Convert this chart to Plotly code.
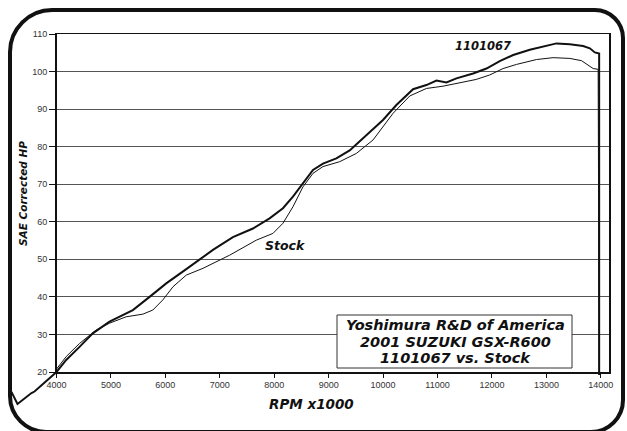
import plotly.graph_objects as go

# ---------------- data ----------------
rpm_1101067 = [3173, 3283, 3540, 3596, 4000, 4178, 4423, 4667, 4974, 5403, 5710, 6016,
               6384, 6874, 7241, 7609, 7915, 8160, 8344, 8528, 8712, 8896, 9141, 9386,
               9693, 9998, 10244, 10550, 10795, 10980, 11164, 11347, 11654, 11899,
               12143, 12390, 12695, 13002, 13186, 13430, 13675, 13798, 13890, 13969, 13969]
hp_1101067 = [14.7, 11.5, 14.4, 14.8, 20.0, 23.2, 26.7, 30.3, 33.4, 36.5, 40.0, 43.6,
              47.4, 52.5, 55.9, 58.2, 60.9, 63.6, 66.7, 70.2, 73.8, 75.5, 76.9, 79.0,
              83.1, 87.1, 91.1, 95.3, 96.4, 97.6, 97.1, 98.2, 99.5, 100.8,
              102.8, 104.4, 105.8, 106.8, 107.5, 107.3, 106.8, 106.2, 105.1, 104.8, 19.2]

rpm_stock = [3990, 4178, 4423, 4730, 4974, 5280, 5586, 5770, 5954, 6140, 6384, 6690,
             7180, 7670, 7976, 8160, 8344, 8528, 8712, 8896, 9202, 9447, 9509, 9816,
             10184, 10490, 10795, 11100, 11406, 11710, 11960, 12204, 12451, 12695,
             12818, 13124, 13430, 13645, 13767, 13859, 13951, 13969]
hp_stock = [20.6, 24.1, 27.6, 31.2, 33.0, 34.7, 35.4, 36.5, 39.2, 42.7, 45.8, 47.6,
            51.1, 55.1, 56.9, 59.6, 64.0, 69.3, 72.9, 74.7, 76.0, 77.8, 78.2, 81.8,
            88.9, 93.5, 95.5, 96.1, 97.0, 97.9, 99.1, 100.8, 101.9, 102.8,
            103.2, 103.7, 103.5, 102.9, 101.7, 100.8, 100.6, 19.2]

x_ticks = [4000, 5000, 6000, 7000, 8000, 9000, 10000, 11000, 12000, 13000, 14000]
y_ticks = [20, 30, 40, 50, 60, 70, 80, 90, 100, 110]

title_lines = ["Yoshimura R&D of America", "2001 SUZUKI GSX-R600", "1101067 vs. Stock"]

# ---------------- geometry helpers ----------------
W, H = 627, 431
def PX(x):
    return x / W
def PY(y):
    return 1 - y / H

X_RANGE = [4000, 14150]
Y_RANGE = [20, 110]
plot_l, plot_r, plot_t, plot_b = 56.5, 609, 34, 372

sx = (X_RANGE[1] - X_RANGE[0]) / (plot_r - plot_l)
sy = (Y_RANGE[1] - Y_RANGE[0]) / (plot_b - plot_t)
x2_range = [X_RANGE[0] - plot_l * sx, X_RANGE[0] + (W - plot_l) * sx]
y2_range = [Y_RANGE[0] - (H - plot_b) * sy, Y_RANGE[1] + plot_t * sy]

bold_it = lambda s: dict(family="DejaVu Sans", size=s, color="#111111",
                         weight="bold", style="italic")
tick_font = dict(family="Liberation Sans, Arial, sans-serif", size=9, color="#333333")

fig = go.Figure()
fig.add_trace(go.Scatter(x=[], y=[], xaxis="x", yaxis="y", showlegend=False))

fig.add_trace(go.Scatter(x=rpm_stock, y=hp_stock, mode="lines",
                         line=dict(color="#111111", width=1.0),
                         xaxis="x2", yaxis="y2", showlegend=False, hoverinfo="skip"))
fig.add_trace(go.Scatter(x=rpm_1101067, y=hp_1101067, mode="lines",
                         line=dict(color="#111111", width=2.0),
                         xaxis="x2", yaxis="y2", showlegend=False, hoverinfo="skip"))

fig.update_layout(
    template="none",
    width=W, height=H,
    margin=dict(l=0, r=0, t=0, b=0, pad=0, autoexpand=False),
    paper_bgcolor="white", plot_bgcolor="rgba(0,0,0,0)",
    xaxis=dict(domain=[PX(plot_l), PX(plot_r)], range=X_RANGE, tickvals=x_ticks,
               ticktext=[str(v) for v in x_ticks], showgrid=False, zeroline=False,
               showline=True, linecolor="#111111", linewidth=1.5, mirror=True,
               ticks="outside", ticklen=4, tickcolor="#111111", tickfont=tick_font,
               anchor="y", fixedrange=True, automargin=False),
    yaxis=dict(domain=[PY(plot_b), PY(plot_t)], range=Y_RANGE, tickvals=y_ticks,
               showgrid=True, gridcolor="#555555", gridwidth=1, zeroline=False,
               showline=True, linecolor="#111111", linewidth=1.5, mirror=True,
               ticks="outside", ticklen=6, tickcolor="#111111", tickfont=tick_font,
               anchor="x", fixedrange=True, automargin=False),
    xaxis2=dict(domain=[0, 1], range=x2_range, visible=False, anchor="y2",
                fixedrange=True, automargin=False),
    yaxis2=dict(domain=[0, 1], range=y2_range, visible=False, anchor="x2",
                fixedrange=True, automargin=False),
)

# rounded frame (pixel path -> paper coords)
L, T, R, B = 10, 10, 623, 432
rtl, rtr, rbl, rbr = 42, 28, 36, 32
k = 0.55
def pt(x, y):
    return f"{PX(x):.5f},{PY(y):.5f}"
path = (
    f"M {pt(L + rtl, T)} L {pt(R - rtr, T)} "
    f"C {pt(R - rtr + k*rtr, T)} {pt(R, T + rtr - k*rtr)} {pt(R, T + rtr)} "
    f"L {pt(R, B - rbr)} "
    f"C {pt(R, B - rbr + k*rbr)} {pt(R - rbr + k*rbr, B)} {pt(R - rbr, B)} "
    f"L {pt(L + rbl, B)} "
    f"C {pt(L + rbl - k*rbl, B)} {pt(L, B - rbl + k*rbl)} {pt(L, B - rbl)} "
    f"L {pt(L, T + rtl)} "
    f"C {pt(L, T + rtl - k*rtl)} {pt(L + rtl - k*rtl, T)} {pt(L + rtl, T)} Z"
)
fig.add_shape(type="path", path=path, xref="paper", yref="paper",
              line=dict(color="#111111", width=4), layer="above")

# title box
fig.add_shape(type="rect", xref="paper", yref="paper",
              x0=PX(337), x1=PX(572), y0=PY(368), y1=PY(315),
              fillcolor="white", line=dict(color="#333333", width=1), layer="above")
for line_text, yc in zip(title_lines, [325, 341.5, 357.5]):
    fig.add_annotation(xref="paper", yref="paper", x=PX(455), y=PY(yc),
                       text=line_text, showarrow=False,
                       font=bold_it(14.5), align="center", xanchor="center", yanchor="middle")

# axis titles
fig.add_annotation(xref="paper", yref="paper", x=PX(23), y=PY(194), text="SAE Corrected HP",
                   textangle=-90, showarrow=False, font=bold_it(10.5),
                   xanchor="center", yanchor="middle")
fig.add_annotation(xref="paper", yref="paper", x=PX(311), y=PY(404), text="RPM x1000",
                   showarrow=False, font=bold_it(13.5), xanchor="center", yanchor="middle")

# series labels
fig.add_annotation(xref="paper", yref="paper", x=PX(483), y=PY(46), text="1101067",
                   showarrow=False, font=bold_it(11.5), xanchor="center", yanchor="middle")
fig.add_annotation(xref="paper", yref="paper", x=PX(285), y=PY(246), text="Stock",
                   showarrow=False, font=bold_it(12.5), xanchor="center", yanchor="middle")

fig.write_html("out.html", config={"displayModeBar": False, "staticPlot": True},
               post_script="document.body.style.margin='0';document.body.style.overflow='hidden';")
